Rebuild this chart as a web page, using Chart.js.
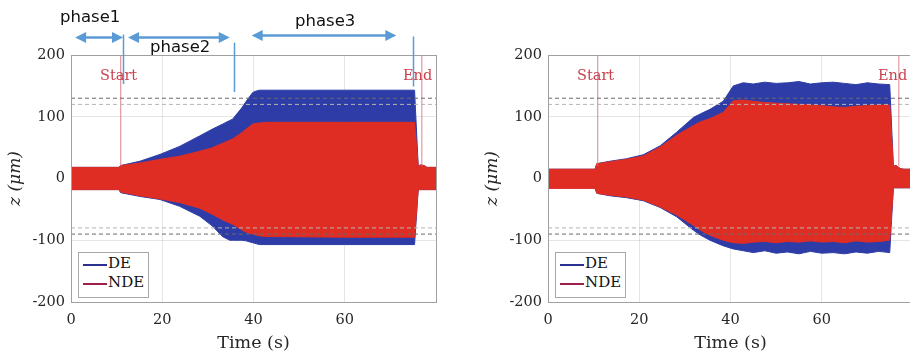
<!DOCTYPE html>
<html>
<head>
<meta charset="utf-8">
<script src="https://cdn.jsdelivr.net/npm/chart.js@4.4.1/dist/chart.umd.min.js"></script>
<style>
    html, body { margin: 0; padding: 0; background: #fff; }
    #wrap { position: relative; width: 910px; height: 356px; overflow: hidden; }
    canvas { position: absolute; top: 0; }
    .lbl { position: absolute; line-height: 1; white-space: nowrap; font-family: 'DejaVu Serif', serif; }
    .mark { font-size: 14.5px; color: #c8414f; }
    .phase { font-family: 'DejaVu Sans', sans-serif; font-size: 16.5px; color: #111; }
    .legend { position: absolute; top: 252px; width: 69px; height: 44px; border: 1px solid #a8a8a8; background: #fff; }
    .legend .ln { position: absolute; left: 4px; width: 24px; height: 2px; }
    .legend .tx { position: absolute; left: 29px; font-family: 'DejaVu Serif', serif; font-size: 15px; line-height: 1; color: #111; }
</style>
</head>
<body>
<div id="wrap">
    <canvas id="chartLeft" width="455" height="356" style="left:0"></canvas>
    <canvas id="chartRight" width="455" height="356" style="left:477px"></canvas>

    <div class="lbl phase" style="left:60px;top:9px">phase1</div>
    <div class="lbl phase" style="left:150px;top:39px">phase2</div>
    <div class="lbl phase" style="left:295px;top:13px">phase3</div>

    <div class="lbl mark" style="left:100px;top:68px">Start</div>
    <div class="lbl mark" style="left:403px;top:68px">End</div>
    <div class="lbl mark" style="left:577px;top:68px">Start</div>
    <div class="lbl mark" style="left:878px;top:68px">End</div>

    <div class="legend" style="left:78px">
        <span class="ln" style="top:11px;background:#2b2f8f"></span><span class="tx" style="top:3px">DE</span>
        <span class="ln" style="top:30px;background:#9c2048"></span><span class="tx" style="top:22px">NDE</span>
    </div>
    <div class="legend" style="left:555px">
        <span class="ln" style="top:11px;background:#2b2f8f"></span><span class="tx" style="top:3px">DE</span>
        <span class="ln" style="top:30px;background:#9c2048"></span><span class="tx" style="top:22px">NDE</span>
    </div>
</div>

<script>
// ---- data (time in s, z in µm) ----

// left panel: envelope of the vibration signal
const timeL = [0, 10.5, 10.9, 15.1, 19.5, 23.8, 28.2, 31, 33.2, 34.8, 35.4, 37.4, 38.4, 39.8, 40.3, 41.3, 43.2, 60, 75.3, 76.1, 76.6, 77.4, 78, 80];
const deUpperL = [18, 18, 21, 28, 39, 52, 69, 80, 88, 94, 96, 114, 125, 139, 141, 143, 143, 143, 143, 20, 22, 21, 18, 18];
const deLowerL = [-18, -18, -23, -29, -34, -45, -61, -77, -94, -100, -100, -100, -101, -104, -105, -107, -107, -107, -107, -18, -18, -18, -18, -18];
const ndeUpperL = [18, 18, 21, 25, 31, 36, 44, 50, 57, 62, 64, 74, 80, 88, 89, 90, 91, 91, 91, 20, 22, 21, 18, 18];
const ndeLowerL = [-18, -18, -22, -28, -33, -39, -48, -58, -67, -72, -74, -83, -87, -90, -91, -93, -94, -95, -95, -18, -18, -18, -18, -18];

// right panel
const timeR = [0, 10.3, 10.7, 13.6, 17.2, 20.9, 24.6, 28.2, 31.9, 33.5, 35.5, 38.4, 40.6, 42.8, 45, 47.5, 50, 52.5, 55, 57.5, 60, 62.5, 65, 67.5, 70, 72.5, 74.9, 75.7, 76.3, 77.2, 78, 80];
const deUpperR = [15, 15, 24, 28, 32, 38.5, 53, 75, 99, 105, 112, 125, 150, 155, 153, 156, 154, 155, 157, 153, 155, 156, 154, 152, 155, 153, 152, 20, 21, 16, 15, 15];
const deLowerR = [-15, -15, -24, -28, -31, -36, -47, -62, -84, -92, -100, -109, -114, -117, -120, -117, -121, -119, -122, -118, -121, -120, -122, -119, -121, -118, -120, -15, -15, -15, -15, -15];
const ndeUpperR = [15, 15, 24, 27, 31, 36.5, 51, 70, 86, 92, 97, 107, 126, 127, 125, 123, 122, 121, 120, 119, 118, 116, 115, 117, 118, 119, 119, 20, 21, 16, 15, 15];
const ndeLowerR = [-16, -16, -24, -27, -30, -35, -46, -59, -76, -84, -92, -100, -104, -105, -103, -102, -104, -102, -103, -101, -103, -102, -104, -101, -103, -102, -100, -15, -15, -15, -15, -15];

// start / end of the run and limit lines
const startEndL = [10.9, 76.9];
const startEndR = [10.9, 76.9];
const limitsDark = [130, -90];
const limitsLight = [120, -80];

// phase markers of the left panel: arrows [from, to, z] and lines [t, zTop, zBottom]
const phaseArrows = [[0.9, 11.4, 229], [12.5, 34.8, 229], [39.6, 71.3, 232]];
const phaseLines = [[11.4, 233, 153], [35.8, 220, 140], [75.0, 230, 149]];

const X_TICKS = [0, 20, 40, 60];
const Y_TICKS = [-200, -100, 0, 100, 200];

const BLUE = '#2d3ca6';
const RED = '#e02d24';

function pts(t, v) {
    return t.map((x, i) => ({ x: x, y: v[i] }));
}

function hLine(y, color) {
    return {
        data: [{ x: 0, y: y }, { x: 80, y: y }],
        borderColor: color, borderWidth: 1, borderDash: [4, 3],
        pointRadius: 0, fill: false, order: 0
    };
}

function vLine(x) {
    return {
        data: [{ x: x, y: 20 }, { x: x, y: 200 }],
        borderColor: 'rgba(215,110,125,0.85)', borderWidth: 1,
        pointRadius: 0, fill: false, order: 0
    };
}

// frame around the plot area, like MATLAB's box on
const boxPlugin = {
    id: 'box',
    afterDraw(chart) {
        const a = chart.chartArea, ctx = chart.ctx;
        ctx.save();
        ctx.strokeStyle = '#a0a0a0';
        ctx.lineWidth = 1;
        ctx.strokeRect(Math.round(a.left) + 0.5, Math.round(a.top) + 0.5,
            Math.round(a.right - a.left), Math.round(a.bottom - a.top));
        ctx.restore();
    }
};

// phase arrows above the left panel
const phasePlugin = {
    id: 'phases',
    afterDraw(chart) {
        const ctx = chart.ctx, xs = chart.scales.x, ys = chart.scales.y;
        ctx.save();
        ctx.strokeStyle = '#5b9bd5';
        ctx.fillStyle = '#5b9bd5';
        phaseArrows.forEach(a => {
            const x1 = xs.getPixelForValue(a[0]), x2 = xs.getPixelForValue(a[1]);
            const y = Math.round(ys.getPixelForValue(a[2])) + 0.5;
            ctx.lineWidth = 2.5;
            ctx.beginPath();
            ctx.moveTo(x1 + 8, y);
            ctx.lineTo(x2 - 8, y);
            ctx.stroke();
            [[x1, 1], [x2, -1]].forEach(h => {
                ctx.beginPath();
                ctx.moveTo(h[0], y);
                ctx.lineTo(h[0] + h[1] * 11, y - 5.5);
                ctx.lineTo(h[0] + h[1] * 11, y + 5.5);
                ctx.closePath();
                ctx.fill();
            });
        });
        ctx.lineWidth = 1.5;
        phaseLines.forEach(l => {
            const x = Math.round(xs.getPixelForValue(l[0])) + 0.5;
            ctx.beginPath();
            ctx.moveTo(x, ys.getPixelForValue(l[1]));
            ctx.lineTo(x, ys.getPixelForValue(l[2]));
            ctx.stroke();
        });
        ctx.restore();
    }
};

function makeChart(id, t, deU, deL, ndeU, ndeL, startEnd, extraPlugins) {
    const ctx = document.getElementById(id);
    return new Chart(ctx, {
        type: 'line',
        data: {
            datasets: [
                hLine(limitsDark[0], '#6a6a6a'), hLine(limitsLight[0], '#b5b5b5'),
                hLine(limitsDark[1], '#6a6a6a'), hLine(limitsLight[1], '#b5b5b5'),
                vLine(startEnd[0]), vLine(startEnd[1]),
                // NDE drawn over DE
                { label: 'NDE', data: pts(t, ndeU), fill: '+1', backgroundColor: RED, borderColor: RED, borderWidth: 1, pointRadius: 0, order: 1 },
                { data: pts(t, ndeL), fill: false, borderColor: RED, borderWidth: 1, pointRadius: 0, order: 1 },
                { label: 'DE', data: pts(t, deU), fill: '+1', backgroundColor: BLUE, borderColor: BLUE, borderWidth: 1, pointRadius: 0, order: 2 },
                { data: pts(t, deL), fill: false, borderColor: BLUE, borderWidth: 1, pointRadius: 0, order: 2 }
            ]
        },
        options: {
            responsive: false,
            animation: false,
            devicePixelRatio: 1,
            layout: { padding: { top: 55, right: 19, left: 0, bottom: 0 } },
            plugins: { legend: { display: false }, tooltip: { enabled: false } },
            scales: {
                x: {
                    type: 'linear', min: 0, max: 80,
                    afterFit: s => { s.height = 54; },
                    afterBuildTicks: s => { s.ticks = X_TICKS.map(v => ({ value: v })); },
                    border: { display: false },
                    grid: { color: 'rgba(0,0,0,0.1)', drawTicks: false },
                    ticks: { padding: 10, color: '#262626', font: { size: 14.5 } },
                    title: { display: true, text: 'Time (s)', color: '#262626', font: { size: 17.5 }, padding: { top: 0, bottom: 2 } }
                },
                y: {
                    min: -200, max: 200,
                    afterFit: s => { s.width = 71; },
                    afterBuildTicks: s => { s.ticks = Y_TICKS.map(v => ({ value: v })); },
                    border: { display: false },
                    grid: { color: 'rgba(0,0,0,0.1)', drawTicks: false },
                    ticks: { padding: 6, color: '#262626', font: { size: 14.5 }, callback: v => String(v) },
                    title: { display: true, text: 'z (μm)', color: '#262626', font: { size: 17, style: 'italic' }, padding: { top: 5, bottom: 0 } }
                }
            }
        },
        plugins: [boxPlugin].concat(extraPlugins)
    });
}

Chart.defaults.font.family = "'DejaVu Serif', serif";

makeChart('chartLeft', timeL, deUpperL, deLowerL, ndeUpperL, ndeLowerL, startEndL, [phasePlugin]);
makeChart('chartRight', timeR, deUpperR, deLowerR, ndeUpperR, ndeLowerR, startEndR, []);
</script>
</body>
</html>
